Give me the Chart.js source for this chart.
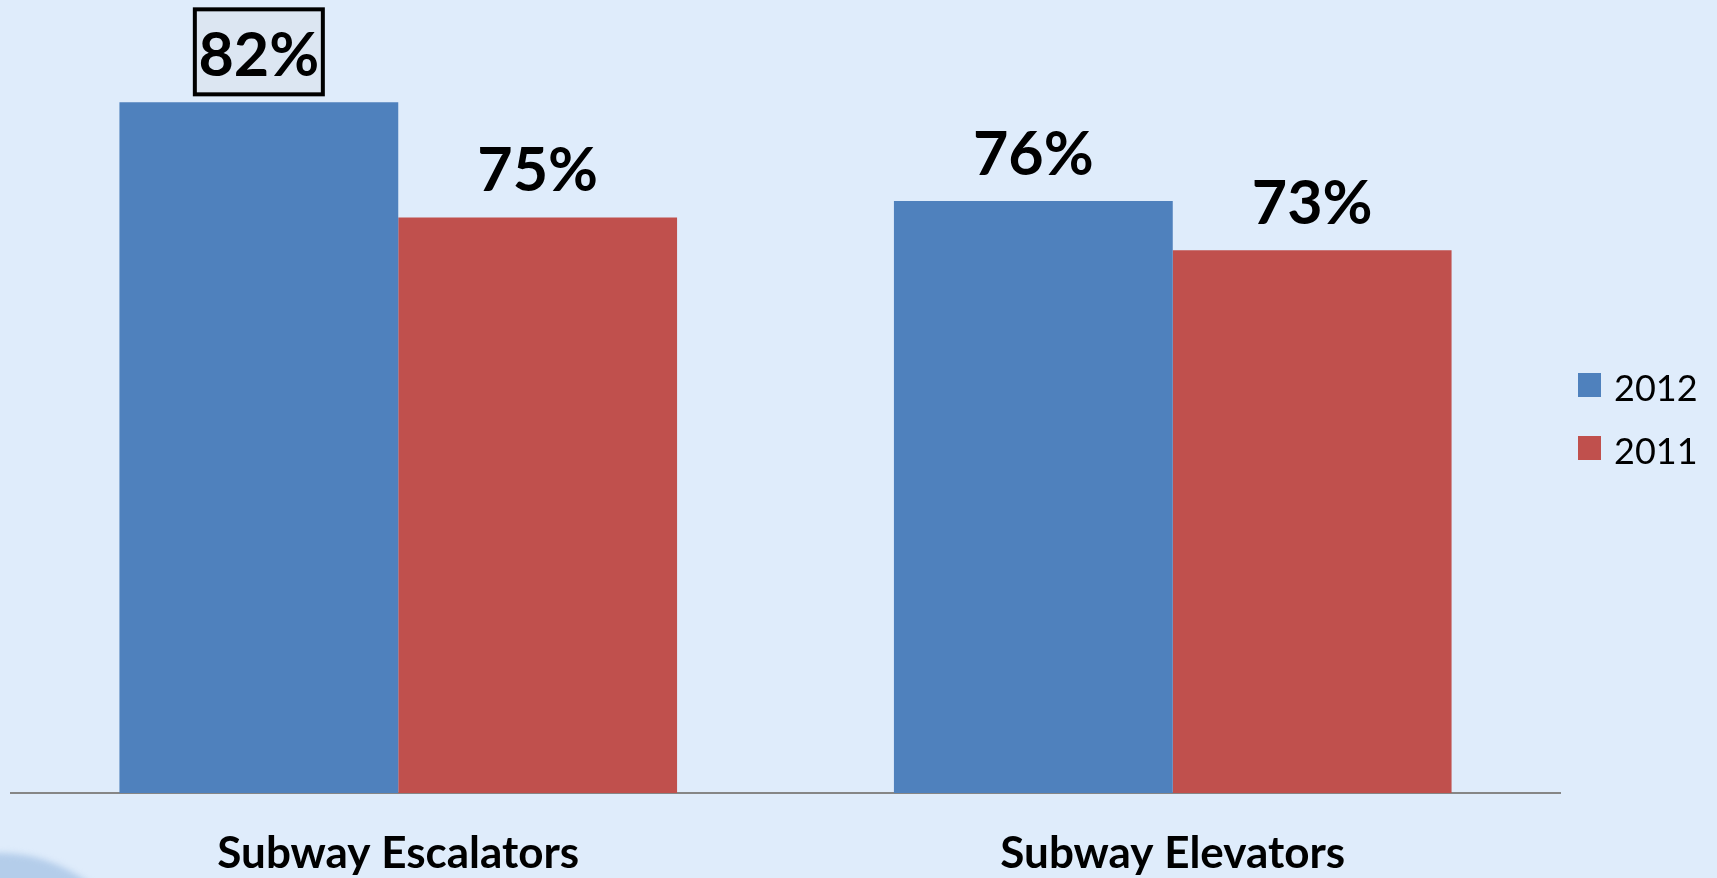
<!DOCTYPE html>
<html>
<head>
<meta charset="utf-8">
<script src="https://cdn.jsdelivr.net/npm/chart.js@4.4.1/dist/chart.umd.min.js"></script>
<style>
  html, body { margin: 0; padding: 0; background: #dfecfb; overflow: hidden; }
  canvas { display: block; }
</style>
</head>
<body>
<canvas id="bars" width="1717" height="878"></canvas>
<script>
const categories = ["Subway Escalators", "Subway Elevators"];
const seriesNames = ["2012", "2011"];
const values2012 = [82, 76];
const values2011 = [75, 73];
const seriesColors = ["#4f81bd", "#c0504d"];
// the one label drawn inside a frame
const boxedLabel = { dataset: 0, index: 0 };

const FONT = "Lato, 'Open Sans', sans-serif";

// page background plus the soft round shape in the lower left corner
const backdrop = {
  id: "backdrop",
  beforeDraw(chart) {
    const ctx = chart.ctx;
    ctx.save();
    ctx.fillStyle = "#dfecfb";
    ctx.fillRect(0, 0, chart.width, chart.height);
    ctx.filter = "blur(3px)";
    ctx.fillStyle = "#b4cdea";
    ctx.beginPath();
    ctx.arc(0, 1000, 147, 0, Math.PI * 2);
    ctx.fill();
    ctx.restore();
  }
};

const valueLabels = {
  id: "valueLabels",
  afterDatasetsDraw(chart) {
    const ctx = chart.ctx;
    ctx.save();
    ctx.font = "bold 61px " + FONT;
    ctx.textAlign = "center";
    ctx.textBaseline = "alphabetic";
    chart.data.datasets.forEach((ds, di) => {
      chart.getDatasetMeta(di).data.forEach((bar, i) => {
        const x = bar.x;
        const y = bar.y - 26;
        if (di === boxedLabel.dataset && i === boxedLabel.index) {
          ctx.fillStyle = "#dce6f2";
          ctx.fillRect(x - 64, y - 67, 128, 85);
          ctx.lineWidth = 4;
          ctx.strokeStyle = "#000";
          ctx.strokeRect(x - 64, y - 67, 128, 85);
        }
        ctx.fillStyle = "#000";
        ctx.fillText(ds.data[i] + "%", x, y);
      });
    });
    ctx.restore();
  }
};

// legend to the right of the plot, one row per series
const sideLegend = {
  id: "sideLegend",
  afterDraw(chart) {
    const ctx = chart.ctx;
    const area = chart.chartArea;
    const mid = (area.top + area.bottom) / 2;
    ctx.save();
    ctx.font = "36px " + FONT;
    ctx.textAlign = "left";
    ctx.textBaseline = "alphabetic";
    chart.data.datasets.forEach((ds, i) => {
      const cy = mid - 38 + i * 63;
      ctx.fillStyle = ds.backgroundColor;
      ctx.fillRect(area.right + 18, cy - 12, 23, 24);
      ctx.fillStyle = "#000";
      ctx.fillText(ds.label, area.right + 54, cy + 16);
    });
    ctx.restore();
  }
};

new Chart(document.getElementById("bars"), {
  type: "bar",
  data: {
    labels: categories,
    datasets: [
      { label: seriesNames[0], data: values2012, backgroundColor: seriesColors[0] },
      { label: seriesNames[1], data: values2011, backgroundColor: seriesColors[1] }
    ]
  },
  options: {
    responsive: false,
    animation: false,
    categoryPercentage: 0.72,
    barPercentage: 1.0,
    layout: { padding: { left: 11, right: 157, top: 53, bottom: 0 } },
    plugins: {
      legend: { display: false },
      tooltip: { enabled: false }
    },
    scales: {
      y: { display: false, min: 40, max: 85 },
      x: {
        grid: { display: false, drawTicks: false },
        border: { display: true, color: "#868686", width: 2 },
        ticks: {
          color: "#000",
          padding: 34,
          maxRotation: 0,
          font: { family: FONT, size: 44, weight: "bold" }
        },
        afterFit(scale) { scale.height = 85; }
      }
    }
  },
  plugins: [backdrop, valueLabels, sideLegend]
});
</script>
</body>
</html>
